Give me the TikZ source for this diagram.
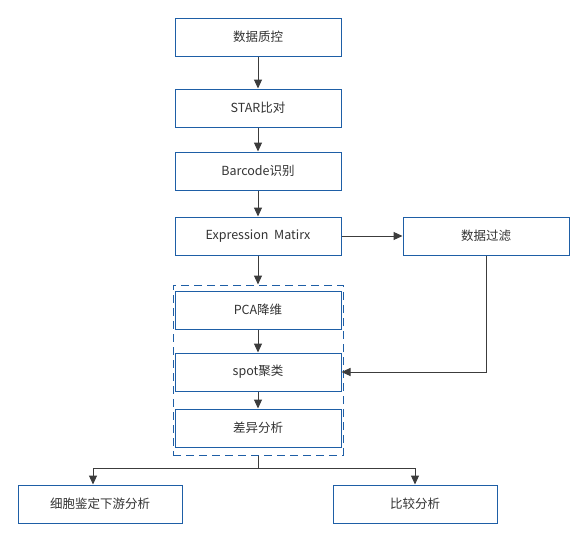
\documentclass[tikz,border=0pt]{standalone}
\usepackage{fontspec}
\setmainfont{Noto Sans CJK SC}
\usepackage{tikz}
\usetikzlibrary{positioning,arrows.meta,calc}
\definecolor{flowBlue}{RGB}{30,94,166}
\definecolor{flowText}{RGB}{51,51,51}
\definecolor{flowLine}{RGB}{60,60,60}

\tikzset{
  procbox/.style={draw=flowBlue, line width=1pt, fill=white, minimum width=166pt,
    minimum height=38pt, inner sep=0pt, text=flowText, font=\fontsize{12.5}{15}\selectfont},
  flowarrow/.style={draw=flowLine, line width=1pt, -{Triangle[length=9pt,width=8pt]}}
}

\begin{document}
\begin{tikzpicture}[x=1pt, y=-1pt]
  \useasboundingbox (0,0) rectangle (584,541);
  % dashed group frame
  \node[draw=flowBlue, line width=1pt, dash pattern=on 8pt off 5pt, minimum width=170pt,
    minimum height=170pt, inner sep=0pt] (grp) at (258,370) {};
  % main column
  \node[procbox] (qc)   at (258,37)  {数据质控};
  \node[procbox] (star) at (258,108) {STAR比对};
  \node[procbox] (bc)   at (258,171) {Barcode识别};
  \node[procbox] (expr) at (258,236) {Expression\ \ Matirx};
  \node[procbox] (filt) at (486,236) {数据过滤};
  \node[procbox] (pca)  at (258,310) {PCA降维};
  \node[procbox] (spot) at (258,372) {spot聚类};
  \node[procbox] (diff) at (258,428) {差异分析};
  % bottom row
  \node[procbox, minimum width=164pt] (cell) at (100,504) {细胞鉴定下游分析};
  \node[procbox, minimum width=164pt] (comp) at (415,504) {比较分析};
  \coordinate (split) at (258,468);
  \coordinate (cellin) at ($(cell.north)+(-7,0)$);

  \draw[flowarrow] (qc) -- (star);
  \draw[flowarrow] (star) -- (bc);
  \draw[flowarrow] (bc) -- (expr);
  \draw[flowarrow] (expr) -- (filt);
  \draw[flowarrow] (expr) -- (grp.north);
  \draw[flowarrow] (pca) -- (spot);
  \draw[flowarrow] (spot) -- (diff);
  \draw[flowarrow] (filt.south) |- (spot.east);
  \draw[draw=flowLine, line width=1pt] (grp.south) -- (split);
  \draw[flowarrow] (split) -| (cellin);
  \draw[flowarrow] (split) -| (comp.north);
\end{tikzpicture}
\end{document}
